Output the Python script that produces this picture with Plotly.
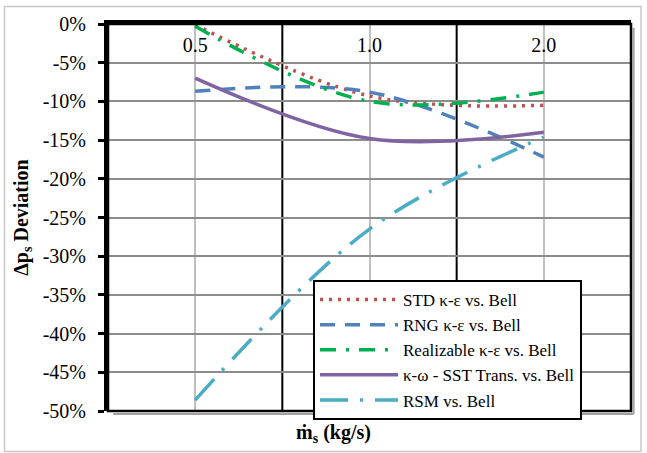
import plotly.graph_objects as go

mass_flow = ["0.5", "1.0", "2.0"]
std_ke = [-0.1, -9.3, -10.5]
rng_ke = [-8.7, -8.8, -17.2]
realizable_ke = [-0.3, -10.0, -8.8]
sst_trans = [-7.0, -14.8, -14.0]
rsm = [-48.6, -26.5, -14.6]

series_names = ["STD κ-ε vs. Bell", "RNG κ-ε vs. Bell", "Realizable κ-ε vs. Bell",
                "κ-ω - SST Trans. vs. Bell", "RSM vs. Bell"]
y_tick_vals = [0, -5, -10, -15, -20, -25, -30, -35, -40, -45, -50]
y_tick_text = ["0%", "-5%", "-10%", "-15%", "-20%", "-25%", "-30%", "-35%", "-40%", "-45%", "-50%"]

colors = ["#C0504D", "#4F81BD", "#00B050", "#8064A2", "#4BACC6"]
dashes = ["3px,6px", "15px,10px", "16px,10px,3px,10px", "solid", "28px,12px,3px,12px"]
series = [std_ke, rng_ke, realizable_ke, sst_trans, rsm]

FONT = "Liberation Serif"

fig = go.Figure()
for name, vals, c, d in zip(series_names, series, colors, dashes):
    fig.add_trace(go.Scatter(
        x=mass_flow, y=vals, name=name, mode="lines",
        line=dict(color=c, width=3.5, dash=d, shape="spline"),
    ))

shapes = []
for xb in [0.5, 1.5]:
    shapes.append(dict(type="line", xref="x", yref="paper", x0=xb, x1=xb, y0=0, y1=1,
                       line=dict(color="black", width=2), layer="between"))
shapes.append(dict(type="line", xref="paper", yref="paper", x0=1.005, x1=1.005, y0=-0.008, y1=0.99,
                   line=dict(color="#a0a0a0", width=2), layer="below"))
shapes.append(dict(type="line", xref="paper", yref="paper", x0=0.01, x1=1.005, y0=-0.008, y1=-0.008,
                   line=dict(color="#a0a0a0", width=2), layer="below"))
shapes.append(dict(type="rect", xref="paper", yref="paper", x0=0, x1=1, y0=0, y1=1,
                   line=dict(color="black", width=2.5), layer="above"))
shapes.append(dict(type="rect", xref="paper", yref="paper",
                   x0=(4.5 - 108) / 523, x1=(641 - 108) / 523,
                   y0=(411 - 451.5) / 387, y1=(411 - 6.5) / 387,
                   line=dict(color="#c8c8c8", width=1.5), layer="below"))

fig.update_layout(
    width=647, height=453,
    margin=dict(l=108, r=16, t=24, b=42),
    paper_bgcolor="white", plot_bgcolor="white",
    font=dict(family=FONT, size=20, color="black"),
    shapes=shapes,
    showlegend=True,
    legend=dict(
        x=(313 - 108) / 523, y=(411 - 280) / 387, xanchor="left", yanchor="top",
        bgcolor="white", bordercolor="black", borderwidth=2,
        font=dict(family=FONT, size=17, color="black"),
        itemwidth=78, tracegroupgap=0,
    ),
    xaxis=dict(
        type="category", side="top", range=[-0.5, 2.5],
        ticks="", ticklabelstandoff=-40,
        showline=True, linecolor="black", linewidth=4,
        showgrid=True, gridcolor="#bfbfbf", gridwidth=2,
        tickfont=dict(family=FONT, size=20, color="black"),
        zeroline=False,
    ),
    yaxis=dict(
        range=[-50, 0], tickvals=y_tick_vals, ticktext=y_tick_text,
        showline=True, linecolor="black", linewidth=4,
        ticks="outside", ticklen=6, tickwidth=2.5, tickcolor="black",
        ticklabelstandoff=8,
        showgrid=True, gridcolor="#8c8c8c", gridwidth=2,
        zeroline=False,
        tickfont=dict(family=FONT, size=20, color="black"),
        title=dict(text="<b>Δp<sub>s</sub> Deviation</b>", standoff=10,
                   font=dict(family=FONT, size=20, color="black")),
    ),
    annotations=[dict(
        text="<b>ṁ<sub>s</sub> (kg/s)</b>", xref="paper", yref="paper",
        x=(333 - 108) / 523, y=(411 - 433) / 387, xanchor="center", yanchor="middle",
        showarrow=False, font=dict(family=FONT, size=20, color="black"),
    )],
)

fig.write_html("out.html")
